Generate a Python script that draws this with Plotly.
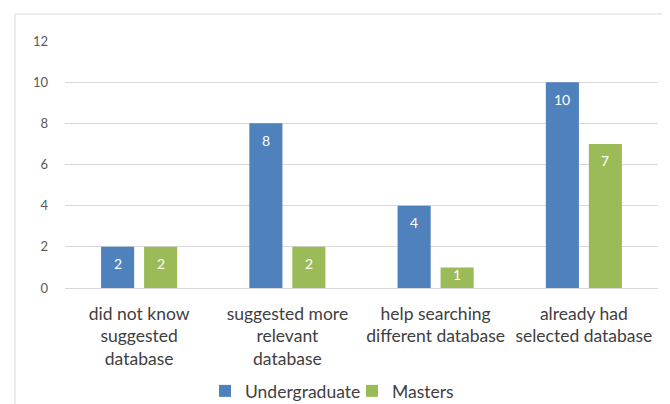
import plotly.graph_objects as go

categories = ["did not know<br>suggested<br>database",
              "suggested more<br>relevant<br>database",
              "help searching<br>different database",
              "already had<br>selected database"]
undergraduate = [2, 8, 4, 10]
masters = [2, 2, 1, 7]
y_ticks = [0, 2, 4, 6, 8, 10, 12]

FONT = "Lato, 'Open Sans', sans-serif"
# page body has an 8px default margin, so the figure is drawn 8px in from the window corner
OFF = 8
W, H = 670 - OFF, 404 - OFF
ML, MR, MT, MB = 65 - OFF, 12, 41 - OFF, 116
YMAX = 12
px_per_unit = (H - MT - MB) / YMAX
BAR_SHIFT = 21.5

fig = go.Figure()
fig.add_trace(go.Bar(name="Undergraduate", x=categories, y=undergraduate,
                     marker=dict(color="#4F81BD", line=dict(width=0))))
fig.add_trace(go.Bar(name="Masters", x=categories, y=masters,
                     marker=dict(color="#9BBB59", line=dict(width=0))))

annotations = []
for series, xs in ((undergraduate, -BAR_SHIFT), (masters, BAR_SHIFT)):
    for cat, v in zip(categories, series):
        h = v * px_per_unit
        shift = min(17, h - 14)
        annotations.append(dict(x=cat, y=v, xref="x", yref="y", text=str(v),
                                showarrow=False, xshift=xs, yshift=-shift,
                                yanchor="middle", xanchor="center",
                                font=dict(color="white", size=14, family=FONT)))

fig.update_layout(
    width=W, height=H,
    margin=dict(l=ML, r=MR, t=MT, b=MB, autoexpand=False),
    paper_bgcolor="white", plot_bgcolor="white",
    barmode="group", bargap=0.42, bargroupgap=0.23,
    font=dict(family=FONT, color="#404040"),
    legend=dict(orientation="h", x=(205 - OFF) / W, xref="container", xanchor="left",
                y=(H - (391 - OFF)) / H, yref="container", yanchor="middle",
                font=dict(size=17.5, color="#404040", family=FONT),
                itemwidth=30, entrywidth=102, traceorder="normal"),
    showlegend=True,
    annotations=annotations,
    shapes=[dict(type="rect", xref="paper", yref="paper",
                 x0=(15 - 65) / (W - ML - MR), x1=1.2, y0=-0.8,
                 y1=(H - MB - (14 - OFF)) / (H - MT - MB),
                 line=dict(color="#D9D9D9", width=1), fillcolor="rgba(0,0,0,0)",
                 layer="below")],
)
fig.update_xaxes(showgrid=False, showline=False, ticks="", automargin=False,
                 tickfont=dict(size=17.5, color="#404040", family=FONT),
                 ticklabelstandoff=13)
fig.update_yaxes(range=[0, YMAX], tickvals=y_ticks, showgrid=True, gridcolor="#D9D9D9",
                 gridwidth=1, zeroline=True, zerolinecolor="#D9D9D9", zerolinewidth=1,
                 showline=False, ticks="", automargin=False,
                 tickfont=dict(size=13, color="#595959", family=FONT),
                 ticklabelstandoff=16)

fig.write_html("out.html")
